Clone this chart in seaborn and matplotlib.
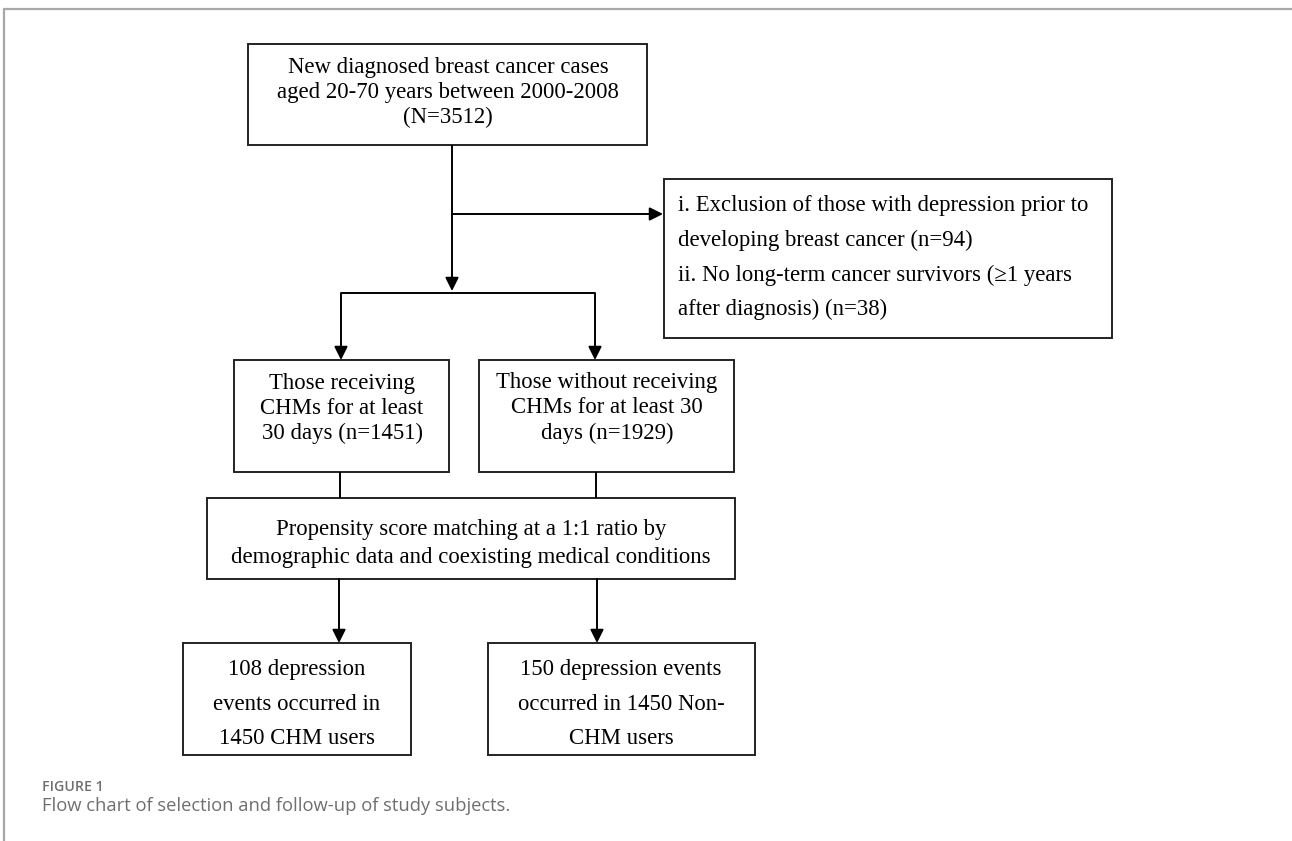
import matplotlib
matplotlib.use("Agg")
import matplotlib.pyplot as plt
import seaborn as sns
from matplotlib.patches import Rectangle

sns.set_theme(style="white")
plt.rcParams["font.family"] = ["Liberation Serif", "DejaVu Serif"]

# ---- content ----
top_text = ["New diagnosed breast cancer cases", "aged 20-70 years between 2000-2008", "(N=3512)"]
excl_text = ["i. Exclusion of those with depression prior to",
             "developing breast cancer (n=94)",
             "ii. No long-term cancer survivors (\u22651 years",
             "after diagnosis) (n=38)"]
left_text = ["Those receiving", "CHMs for at least", "30 days (n=1451)"]
right_text = ["Those without receiving", "CHMs for at least 30", "days (n=1929)"]
psm_text = ["Propensity score matching at a 1:1 ratio by",
            "demographic data and coexisting medical conditions"]
bl_text = ["108 depression", "events occurred in", "1450 CHM users"]
br_text = ["150 depression events", "occurred in 1450 Non-", "CHM users"]
caption_label = "FIGURE 1"
caption_text = "Flow chart of selection and follow-up of study subjects."

W, H = 1292, 841
fig = plt.figure(figsize=(W / 100, H / 100), dpi=100)
ax = fig.add_axes([0, 0, 1, 1])
ax.set_xlim(0, W)
ax.set_ylim(H, 0)
ax.axis("off")

FS = 16.4
EC = "#222222"
LW = 1.4


def box(x0, y0, x1, y1):
    ax.add_patch(Rectangle((x0, y0), x1 - x0, y1 - y0, fill=False, ec=EC, lw=LW))


def lines_centered(lines, cx, ys, fs=FS):
    for t, y in zip(lines, ys):
        ax.text(cx, y, t, ha="center", va="center", fontsize=fs, color="black")


def line(x0, y0, x1, y1):
    ax.plot([x0, x1], [y0, y1], color="black", lw=LW, solid_capstyle="butt")


def arrow(x0, y0, x1, y1):
    ax.annotate("", xy=(x1, y1), xytext=(x0, y0),
                arrowprops=dict(arrowstyle="-|>", color="black", lw=LW,
                                mutation_scale=20, shrinkA=0, shrinkB=0))


# frame lines (page border)
ax.plot([4, W], [9, 9], color="#a8a8a8", lw=1.6)
ax.plot([4, 4], [9, H], color="#a8a8a8", lw=1.6)

# top box
box(248, 44, 647, 145)
lines_centered(top_text, 448, [67, 92, 117])

# main trunk
line(452, 145, 452, 214)
arrow(452, 214, 452, 291)
arrow(452, 214, 663, 214)

# exclusion box
box(664, 179, 1112, 338)
for t, y in zip(excl_text, [205, 240, 275, 309]):
    ax.text(678, y, t, ha="left", va="center", fontsize=FS, color="black")

# branch
line(341, 293, 595, 293)
arrow(341, 293, 341, 360)
arrow(595, 293, 595, 360)

# group boxes
box(234, 360, 449, 472)
lines_centered(left_text, 342, [383, 408, 433])
box(479, 360, 734, 472)
lines_centered(right_text, 607, [382, 407, 433])

# to PSM
line(340, 472, 340, 498)
line(596, 472, 596, 498)
box(207, 498, 735, 579)
lines_centered(psm_text, 471, [530, 558])

# outcomes
arrow(339, 579, 339, 643)
arrow(597, 579, 597, 643)
box(183, 643, 411, 755)
lines_centered(bl_text, 297, [669, 704, 738])
box(488, 643, 755, 755)
lines_centered(br_text, 621, [670, 704, 738])

# caption
ax.text(42, 787, caption_label, ha="left", va="center", fontsize=10.2,
        color="#6f6f6f", family=["Open Sans", "DejaVu Sans"], fontweight="semibold")
ax.text(42, 806, caption_text, ha="left", va="center", fontsize=13.2,
        color="#6f6f6f", family=["Open Sans", "DejaVu Sans"])

fig.savefig("out.png", dpi=100, facecolor="white")
